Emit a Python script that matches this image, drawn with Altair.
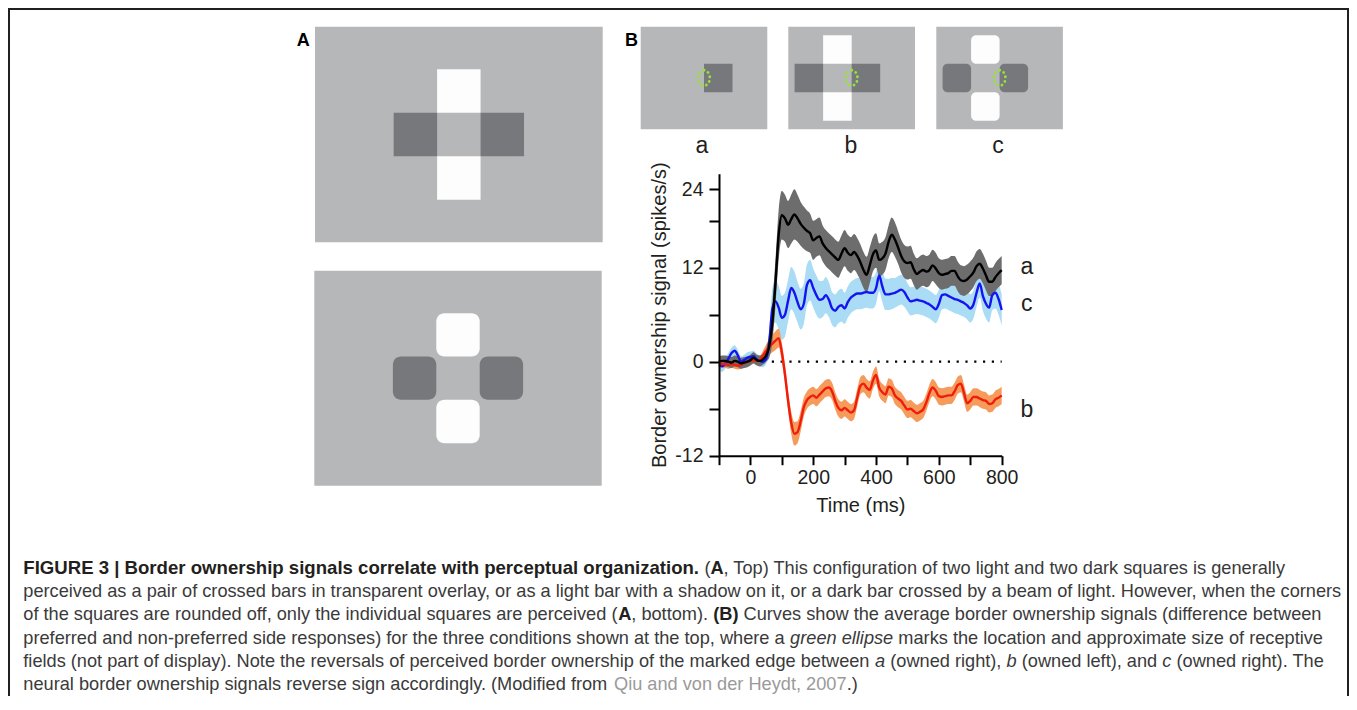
import altair as alt
import pandas as pd

FONT = "Liberation Sans"
W, H = 1341, 688

# ---------------- Panel B: border ownership signal time courses ----------------
time_ms = list(range(-100, 801, 10))

cond_a_mean = [0.0, 0.1, 0.1, 0.0, -0.1, 0.1, 0.0, -0.2, -0.1, 0.0,
               0.2, 0.5, 0.2, 0.1, 0.3, 0.8, 2.0, 5.0, 10.2, 16.2,
               18.7, 18.3, 17.5, 18.2, 18.8, 18.3, 17.6, 17.1, 16.7, 16.4,
               15.5, 15.8, 16.0, 15.1, 14.5, 14.1, 13.7, 13.3, 13.0, 13.8,
               14.5, 13.9, 13.6, 14.0, 13.5, 12.7, 11.7, 11.1, 12.3, 13.7,
               14.2, 13.0, 13.2, 13.8, 15.3, 16.2, 15.6, 14.6, 13.5, 12.8,
               12.6, 12.7, 11.8, 11.2, 11.5, 11.7, 11.5, 11.7, 12.3, 11.9,
               11.3, 11.1, 11.2, 11.3, 11.6, 11.6, 10.9, 10.4, 10.3, 10.5,
               10.9, 11.4, 12.2, 12.5, 11.9, 11.0, 10.2, 10.2, 10.8, 11.3,
               11.7]
cond_a_sem = [0.7, 0.7, 0.7, 0.7, 0.7, 0.7, 0.7, 0.7, 0.7, 0.7,
              0.7, 0.7, 0.7, 0.7, 0.7, 0.8, 1.5, 2.5, 3.0, 3.2,
              3.1, 3.0, 3.0, 3.1, 3.2, 3.0, 2.8, 2.7, 2.6, 2.5,
              2.5, 2.4, 2.4, 2.3, 2.3, 2.3, 2.3, 2.3, 2.3, 2.3,
              2.3, 2.3, 2.3, 2.3, 2.3, 2.3, 2.3, 2.3, 2.3, 2.2,
              2.2, 2.1, 2.1, 2.1, 2.1, 2.2, 2.2, 2.1, 2.1, 2.1,
              2.1, 2.1, 2.0, 2.0, 2.0, 2.0, 2.0, 2.0, 2.0, 2.0,
              1.9, 1.9, 1.9, 1.9, 1.9, 1.9, 1.9, 1.9, 1.9, 1.9,
              1.9, 1.9, 1.9, 1.9, 1.9, 1.9, 1.8, 1.8, 1.8, 1.8,
              1.8]

cond_c_mean = [-0.4, -0.6, -0.2, 0.4, 1.1, 1.4, 0.8, 0.0, 0.2, 0.5,
               0.6, 0.7, 0.3, 0.1, 0.0, 0.4, 2.5, 6.8, 7.7, 6.9,
               5.6, 6.0, 7.8, 9.4, 8.8, 7.6, 6.7, 7.4, 9.8, 10.4,
               9.4, 8.5, 7.9, 8.0, 8.5, 7.9, 6.8, 6.5, 7.0, 7.2,
               6.8, 7.6, 8.2, 8.5, 8.7, 8.7, 8.8, 8.9, 8.8, 8.8,
               9.4, 11.0, 9.6, 8.6, 8.6, 8.7, 8.8, 9.0, 9.2, 8.9,
               8.2, 7.7, 7.8, 7.9, 7.8, 7.7, 7.5, 7.3, 7.0, 6.7,
               7.4, 8.5, 8.6, 8.4, 8.2, 8.0, 7.9, 7.7, 7.5, 7.2,
               6.8, 7.3, 8.8, 10.0, 8.4, 7.4, 6.9, 8.5, 8.8, 8.0,
               6.6]
cond_c_sem = [0.7, 0.7, 0.7, 0.7, 0.7, 0.7, 0.7, 0.7, 0.7, 0.7,
              0.7, 0.7, 0.7, 0.7, 0.7, 0.7, 1.5, 2.5, 2.7, 2.8,
              2.8, 2.8, 2.7, 2.7, 2.7, 2.6, 2.6, 2.6, 2.6, 2.6,
              2.5, 2.5, 2.4, 2.3, 2.3, 2.2, 2.1, 2.1, 2.1, 2.1,
              2.0, 2.0, 2.0, 2.0, 2.0, 2.0, 2.0, 2.0, 2.0, 2.0,
              2.0, 2.0, 2.0, 2.0, 2.0, 2.0, 1.9, 1.9, 1.9, 1.9,
              1.8, 1.8, 1.8, 1.8, 1.8, 1.8, 1.8, 1.8, 1.8, 1.8,
              1.8, 1.8, 1.8, 1.8, 1.8, 1.8, 1.8, 1.8, 1.8, 1.8,
              1.8, 1.8, 1.8, 1.8, 1.9, 1.9, 1.9, 1.9, 2.0, 2.0,
              2.0]

cond_b_mean = [-0.2, -0.3, -0.3, -0.4, -0.3, -0.4, -0.5, -0.4, -0.2, 0.0,
               0.1, 0.2, 0.1, 0.2, 0.8, 1.4, 1.9, 2.3, 2.7, 3.0,
               1.2, -1.6, -5.0, -7.8, -9.2, -9.0, -7.6, -5.8, -4.9, -4.5,
               -4.3, -4.6, -4.2, -3.8, -3.4, -3.3, -3.8, -5.0, -5.9, -6.2,
               -5.9, -6.2, -6.5, -6.2, -4.6, -3.1, -2.8, -3.3, -3.6, -2.4,
               -1.7, -3.3, -3.9, -4.2, -3.2, -3.4, -4.3, -4.7, -5.0, -5.6,
               -6.1, -6.0, -6.3, -6.6, -6.4, -6.1, -5.2, -4.0, -3.3, -3.7,
               -4.4, -4.5, -4.4, -4.3, -4.3, -3.8, -3.0, -2.8, -4.0, -5.3,
               -5.0, -4.5, -4.5, -4.7, -4.9, -5.0, -5.4, -5.3, -4.8, -4.6,
               -4.3]
cond_b_sem = [0.5, 0.5, 0.5, 0.5, 0.5, 0.5, 0.5, 0.5, 0.5, 0.5,
              0.5, 0.5, 0.5, 0.5, 0.6, 0.8, 1.0, 1.1, 1.2, 1.2,
              1.2, 1.2, 1.3, 1.4, 1.5, 1.4, 1.3, 1.2, 1.1, 1.1,
              1.1, 1.1, 1.1, 1.1, 1.1, 1.1, 1.1, 1.1, 1.1, 1.1,
              1.1, 1.1, 1.1, 1.1, 1.1, 1.1, 1.1, 1.1, 1.1, 1.1,
              1.1, 1.1, 1.1, 1.1, 1.1, 1.1, 1.1, 1.1, 1.1, 1.1,
              1.1, 1.1, 1.1, 1.1, 1.1, 1.1, 1.1, 1.1, 1.1, 1.1,
              1.1, 1.1, 1.1, 1.1, 1.1, 1.1, 1.1, 1.1, 1.1, 1.1,
              1.1, 1.1, 1.1, 1.1, 1.1, 1.1, 1.1, 1.1, 1.1, 1.1,
              1.1]

series_names = ["a", "c", "b"]
label_time = [880, 880, 880]
label_value = [11.2, 6.5, -7.0]

x_ticks = [-100, 0, 100, 200, 300, 400, 500, 600, 700, 800]
y_ticks = [-12, -6, 0, 6, 12, 18, 22]

# ---------------- Stimulus geometry (square units; marked edge / cross centre at origin) ----------------
cross_cells = [(0, 1, "light"), (0, -1, "light"), (-1, 0, "dark"), (1, 0, "dark")]
thumb_a_cells = [(0.5, 0, "dark")]
thumb_bc_cells = [(-1.5, 0, "dark"), (0.5, 0, "dark"), (-0.5, 1, "light"), (-0.5, -1, "light")]

# ---------------- Colours ----------------
BG_GRAY = "#b6b7b9"
TONE = alt.Scale(domain=["dark", "light"], range=["#77787b", "#fdfdfd"])
GREEN = "#98e23c"
INK = "#231f20"

# ---------------- Panel B plot (every layer uses identical scales) ----------------
def XS():
    return alt.Scale(domain=[-100, 800], range=[711, 993.7], nice=False, zero=False)


def YS():
    return alt.Scale(domain=[-12, 24], range=[447.7, 165.7], nice=False, zero=False)


x_axis = alt.Axis(orient="bottom", offset=447.7 - H, values=x_ticks,
                  labelExpr="datum.value >= 0 && datum.value % 200 == 0 ? '' + datum.value : ''",
                  grid=False, domainColor="black", domainWidth=2, tickColor="black", tickWidth=2,
                  tickSize=9, labelFontSize=19.5, labelColor=INK, labelPadding=4, labelFlush=False,
                  labelOverlap=False, title="Time (ms)", titleFontSize=20, titleFontWeight="normal",
                  titleColor=INK, titlePadding=8, zindex=1)
y_axis = alt.Axis(orient="left", offset=-711, values=y_ticks,
                  labelExpr="datum.value == 22 ? '24' : (datum.value % 12 == 0 ? '' + datum.value : '')",
                  grid=False, domainColor="black", domainWidth=2, tickColor="black", tickWidth=2,
                  tickSize=10, labelFontSize=19.5, labelColor=INK, labelPadding=6, labelFlush=False,
                  labelOverlap=False, title="Border ownership signal (spikes/s)", titleFontSize=20,
                  titleFontWeight="normal", titleColor=INK, titlePadding=5, zindex=1)


def series_df(mean, sem):
    d = pd.DataFrame({"t": time_ms, "m": mean, "s": sem})
    d["lo"] = d.m - d.s
    d["hi"] = d.m + d.s
    return d


da = series_df(cond_a_mean, cond_a_sem)
dc = series_df(cond_c_mean, cond_c_sem)
db = series_df(cond_b_mean, cond_b_sem)

zero = alt.Chart(pd.DataFrame({"t0": [-100], "t1": [800], "v": [0]})).mark_rule(
    color="black", strokeWidth=2.2, strokeDash=[2.2, 6.6]).encode(
    x=alt.X("t0:Q", scale=XS(), axis=x_axis), x2="t1:Q", y=alt.Y("v:Q", scale=YS(), axis=y_axis))


def band(d, color):
    return alt.Chart(d).mark_area(color=color, opacity=1, interpolate="monotone").encode(
        x=alt.X("t:Q", scale=XS(), axis=None), y=alt.Y("lo:Q", scale=YS(), axis=None), y2="hi:Q")


def line(d, color):
    return alt.Chart(d).mark_line(color=color, strokeWidth=2.4, interpolate="monotone").encode(
        x=alt.X("t:Q", scale=XS(), axis=None), y=alt.Y("m:Q", scale=YS(), axis=None))


labels_df = pd.DataFrame({"t": label_time, "v": label_value, "name": series_names})
series_labels = alt.Chart(labels_df).mark_text(fontSize=23, color=INK, align="center",
                                               baseline="alphabetic").encode(
    x=alt.X("t:Q", scale=XS(), axis=None), y=alt.Y("v:Q", scale=YS(), axis=None), text="name:N")

plot_layers = [zero, band(dc, "#aadcf5"), band(db, "#f59b5c"), band(da, "#6d6d6d"),
               line(dc, "#1414f0"), line(db, "#f21c0c"), line(da, "black"), series_labels]

# ---------------- Stimulus panels ----------------
ELLIPSE = ("M0,-1 C0.42,-1 0.75,-0.55 0.75,0 C0.75,0.55 0.42,1 0,1 "
           "C-0.42,1 -0.75,0.55 -0.75,0 C-0.75,-0.55 -0.42,-1 0,-1 Z")


def stim(cells, half_w, half_h, xr, yr, radius=0, ellipse=False):
    xs = alt.Scale(domain=[-half_w, half_w], range=xr, nice=False, zero=False)
    ys = alt.Scale(domain=[-half_h, half_h], range=yr, nice=False, zero=False)
    bg = pd.DataFrame({"x0": [-half_w], "x1": [half_w], "y0": [-half_h], "y1": [half_h]})
    layers = [alt.Chart(bg).mark_rect(color=BG_GRAY).encode(
        x=alt.X("x0:Q", scale=xs, axis=None), x2="x1:Q",
        y=alt.Y("y0:Q", scale=ys, axis=None), y2="y1:Q")]
    cdf = pd.DataFrame(cells, columns=["cx", "cy", "tone"])
    cdf["x0"] = cdf.cx - 0.5
    cdf["x1"] = cdf.cx + 0.5
    cdf["y0"] = cdf.cy - 0.5
    cdf["y1"] = cdf.cy + 0.5
    layers.append(alt.Chart(cdf).mark_rect(cornerRadius=radius).encode(
        x=alt.X("x0:Q", scale=xs, axis=None), x2="x1:Q",
        y=alt.Y("y0:Q", scale=ys, axis=None), y2="y1:Q",
        color=alt.Color("tone:N", scale=TONE, legend=None)))
    if ellipse:
        layers.append(alt.Chart(pd.DataFrame({"x": [0], "y": [0]})).mark_point(
            shape=ELLIPSE, size=240, filled=False, color=GREEN, strokeWidth=2.8,
            strokeDash=[0.1, 4.6], strokeCap="round", opacity=1).encode(
            x=alt.X("x:Q", scale=xs, axis=None), y=alt.Y("y:Q", scale=ys, axis=None)))
    return alt.layer(*layers)


panel_A_top = stim(cross_cells, 3.31, 2.48, [307, 594.7], [234.3, 18.7])
panel_A_bot = stim(cross_cells, 3.31, 2.48, [306.3, 593.7], [477.7, 262.7], radius=8)
thumb_a = stim(thumb_a_cells, 2.22, 1.8, [632.7, 759.3], [121.3, 18.7], ellipse=True)
thumb_b = stim(thumb_bc_cells, 2.22, 1.8, [780.3, 907], [121.3, 18.7], ellipse=True)
thumb_c = stim(thumb_bc_cells, 2.22, 1.8, [928.3, 1054.9], [121.3, 18.7], radius=5, ellipse=True)

# ---------------- Panel letters and thumbnail labels ----------------
panel_letters = pd.DataFrame({"x": [288.7, 617], "y": [38, 37.7], "txt": ["A", "B"]})
letters = alt.Chart(panel_letters).mark_text(fontSize=18, fontWeight="bold", color="black",
                                             align="left", baseline="alphabetic").encode(
    x=alt.X("x:Q", scale=None), y=alt.Y("y:Q", scale=None), text="txt:N")

thumb_names = ["a", "b", "c"]
thumb_lab_df = pd.DataFrame({"x": [694, 843, 990], "y": [144.7, 144.7, 144.7], "txt": thumb_names})
thumb_labels = alt.Chart(thumb_lab_df).mark_text(fontSize=23, color=INK, align="center",
                                                 baseline="alphabetic").encode(
    x=alt.X("x:Q", scale=None), y=alt.Y("y:Q", scale=None), text="txt:N")

# ---------------- Caption ----------------
caption_lines = [
    [("FIGURE 3 | Border ownership signals correlate with perceptual organization.", "h"),
     (" (", "n"), ("A", "b"),
     (", Top) This configuration of two light and two dark squares is generally", "n")],
    [("perceived as a pair of crossed bars in transparent overlay, or as a light bar with a shadow "
      "on it, or a dark bar crossed by a beam of light. However, when the corners", "n")],
    [("of the squares are rounded off, only the individual squares are perceived (", "n"),
     ("A", "b"), (", bottom). ", "n"), ("(B)", "b"),
     (" Curves show the average border ownership signals (difference between", "n")],
    [("preferred and non-preferred side responses) for the three conditions shown at the top, "
      "where a ", "n"), ("green ellipse", "i"),
     (" marks the location and approximate size of receptive", "n")],
    [("fields (not part of display). Note the reversals of perceived border ownership of the "
      "marked edge between ", "n"), ("a", "i"), (" (owned right), ", "n"), ("b", "i"),
     (" (owned left), and ", "n"), ("c", "i"), (" (owned right). The", "n")],
    [("neural border ownership signals reverse sign accordingly. (Modified from ", "n"),
     ("Qiu and von der Heydt, 2007", "g"), (".)", "n")],
]

UP = "ABCDEFGHIJKLMNOPQRSTUVWXYZ"
LO = "abcdefghijklmnopqrstuvwxyz"
PU = " !(),-./:;|"
REG_W = dict(zip(PU, [278, 278, 333, 333, 278, 333, 278, 278, 278, 278, 260]))
REG_W.update(dict(zip("0123456789", [556] * 10)))
REG_W.update(dict(zip(UP, [667, 667, 722, 722, 667, 611, 778, 722, 278, 500, 667, 556, 833,
                           722, 778, 667, 778, 722, 667, 611, 722, 667, 944, 667, 667, 611])))
REG_W.update(dict(zip(LO, [556, 556, 500, 556, 556, 278, 556, 556, 222, 222, 500, 222, 833,
                           556, 556, 556, 556, 333, 500, 278, 556, 500, 722, 500, 500, 500])))
BOLD_W = dict(zip(PU, [278, 333, 333, 333, 278, 333, 278, 278, 333, 333, 280]))
BOLD_W.update(dict(zip("0123456789", [556] * 10)))
BOLD_W.update(dict(zip(UP, [722, 722, 722, 722, 667, 611, 778, 722, 278, 556, 722, 611, 833,
                            722, 778, 667, 778, 722, 667, 611, 722, 667, 944, 667, 667, 611])))
BOLD_W.update(dict(zip(LO, [556, 611, 556, 611, 556, 333, 611, 611, 278, 278, 556, 278, 889,
                            611, 611, 611, 611, 389, 556, 333, 611, 556, 778, 556, 556, 500])))

CAP_FS = 18.2
HEAD_FS = 18.6
CAP_X0 = 15.3
CAP_Y0 = 565.5
CAP_DY = 23.35


def text_w(s, style):
    tbl = BOLD_W if style in ("b", "h") else REG_W
    fs = HEAD_FS if style == "h" else CAP_FS
    return sum(tbl.get(ch, 556) for ch in s) * fs / 1000.0


rows = []
for i, segs in enumerate(caption_lines):
    x = CAP_X0
    for txt, style in segs:
        lead = len(txt) - len(txt.lstrip(" "))
        core = txt.strip(" ")
        if core:
            rows.append({"x": x + text_w(" " * lead, style), "y": CAP_Y0 + i * CAP_DY,
                         "txt": core, "style": style})
        x += text_w(txt, style)
cap_df = pd.DataFrame(rows)


def cap_layer(style, color, size=CAP_FS, weight="normal", fstyle="normal"):
    return alt.Chart(cap_df[cap_df["style"] == style]).mark_text(
        fontSize=size, color=color, fontWeight=weight, fontStyle=fstyle,
        align="left", baseline="alphabetic").encode(
        x=alt.X("x:Q", scale=None), y=alt.Y("y:Q", scale=None), text="txt:N")


caption_layers = [cap_layer("n", "#3a3a3a"), cap_layer("h", INK, size=HEAD_FS, weight="bold"),
                  cap_layer("b", INK, weight="bold"), cap_layer("i", "#3a3a3a", fstyle="italic"),
                  cap_layer("g", "#9a9a9a")]

# ---------------- Figure frame ----------------
frame = alt.Chart(pd.DataFrame({"d": [0]})).mark_rect(
    fill="white", fillOpacity=0, stroke=INK, strokeWidth=2).encode(
    x=alt.value(1), x2=alt.value(W - 1), y=alt.value(1), y2=alt.value(H + 30))

chart = alt.layer(
    *plot_layers, panel_A_top, panel_A_bot, thumb_a, thumb_b, thumb_c,
    letters, thumb_labels, *caption_layers, frame
).resolve_scale(x="independent", y="independent").properties(
    width=W, height=H, autosize=alt.AutoSizeParams(type="none"), padding=0
).configure(font=FONT).configure_view(strokeWidth=0)

chart.save("out.html", embed_options={"renderer": "svg", "actions": False})
